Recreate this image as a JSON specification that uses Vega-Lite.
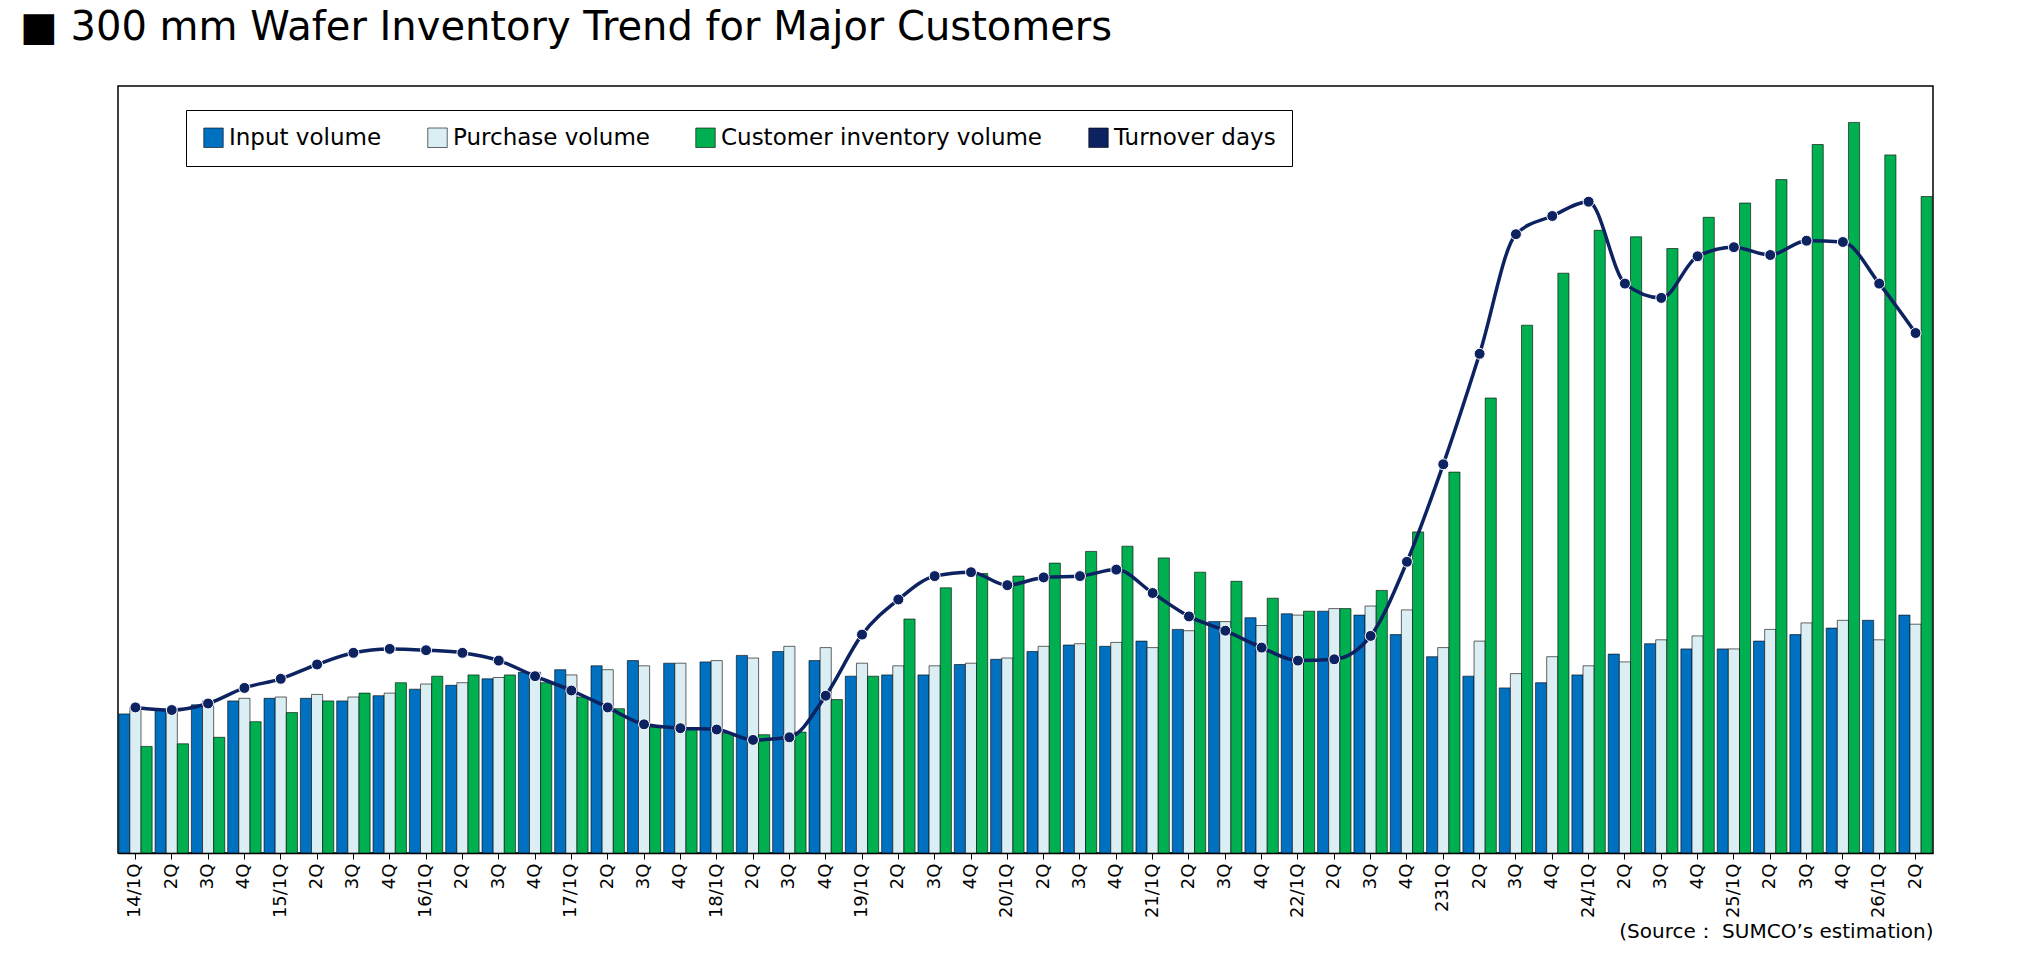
{
  "$schema": "https://vega.github.io/schema/vega-lite/v6.json",
  "width": 1815,
  "height": 767,
  "padding": {"left": 20, "top": 8, "right": 20, "bottom": 5},
  "background": "white",
  "title": {"text": "■ 300 mm Wafer Inventory Trend for Major Customers", "anchor": "start", "dx": -98, "fontSize": 40, "font": "DejaVu Sans", "fontWeight": "normal", "color": "#000000", "offset": 38},
  "config": {"view": {"stroke": "#000000", "strokeWidth": 1.5}, "font": "DejaVu Sans"},
  "data": {"values": [
    {"q":"14/1Q","Input volume":107,"Purchase volume":112,"Customer inventory volume":82,"Turnover days":112},
    {"q":"14/2Q","Input volume":110,"Purchase volume":109,"Customer inventory volume":84,"Turnover days":110},
    {"q":"14/3Q","Input volume":114,"Purchase volume":117,"Customer inventory volume":89,"Turnover days":115},
    {"q":"14/4Q","Input volume":117,"Purchase volume":119,"Customer inventory volume":101,"Turnover days":127},
    {"q":"15/1Q","Input volume":119,"Purchase volume":120,"Customer inventory volume":108,"Turnover days":134},
    {"q":"15/2Q","Input volume":119,"Purchase volume":122,"Customer inventory volume":117,"Turnover days":145},
    {"q":"15/3Q","Input volume":117,"Purchase volume":120,"Customer inventory volume":123,"Turnover days":154},
    {"q":"15/4Q","Input volume":121,"Purchase volume":123,"Customer inventory volume":131,"Turnover days":157},
    {"q":"16/1Q","Input volume":126,"Purchase volume":130,"Customer inventory volume":136,"Turnover days":156},
    {"q":"16/2Q","Input volume":129,"Purchase volume":131,"Customer inventory volume":137,"Turnover days":154},
    {"q":"16/3Q","Input volume":134,"Purchase volume":135,"Customer inventory volume":137,"Turnover days":148},
    {"q":"16/4Q","Input volume":139,"Purchase volume":139,"Customer inventory volume":131,"Turnover days":136},
    {"q":"17/1Q","Input volume":141,"Purchase volume":137,"Customer inventory volume":120,"Turnover days":125},
    {"q":"17/2Q","Input volume":144,"Purchase volume":141,"Customer inventory volume":111,"Turnover days":112},
    {"q":"17/3Q","Input volume":148,"Purchase volume":144,"Customer inventory volume":97,"Turnover days":99},
    {"q":"17/4Q","Input volume":146,"Purchase volume":146,"Customer inventory volume":95,"Turnover days":96},
    {"q":"18/1Q","Input volume":147,"Purchase volume":148,"Customer inventory volume":92,"Turnover days":95},
    {"q":"18/2Q","Input volume":152,"Purchase volume":150,"Customer inventory volume":91,"Turnover days":87},
    {"q":"18/3Q","Input volume":155,"Purchase volume":159,"Customer inventory volume":93,"Turnover days":89},
    {"q":"18/4Q","Input volume":148,"Purchase volume":158,"Customer inventory volume":118,"Turnover days":121},
    {"q":"19/1Q","Input volume":136,"Purchase volume":146,"Customer inventory volume":136,"Turnover days":168},
    {"q":"19/2Q","Input volume":137,"Purchase volume":144,"Customer inventory volume":180,"Turnover days":195},
    {"q":"19/3Q","Input volume":137,"Purchase volume":144,"Customer inventory volume":204,"Turnover days":213},
    {"q":"19/4Q","Input volume":145,"Purchase volume":146,"Customer inventory volume":215,"Turnover days":216},
    {"q":"20/1Q","Input volume":149,"Purchase volume":150,"Customer inventory volume":213,"Turnover days":206},
    {"q":"20/2Q","Input volume":155,"Purchase volume":159,"Customer inventory volume":223,"Turnover days":212},
    {"q":"20/3Q","Input volume":160,"Purchase volume":161,"Customer inventory volume":232,"Turnover days":213},
    {"q":"20/4Q","Input volume":159,"Purchase volume":162,"Customer inventory volume":236,"Turnover days":218},
    {"q":"21/1Q","Input volume":163,"Purchase volume":158,"Customer inventory volume":227,"Turnover days":200},
    {"q":"21/2Q","Input volume":172,"Purchase volume":171,"Customer inventory volume":216,"Turnover days":182},
    {"q":"21/3Q","Input volume":178,"Purchase volume":178,"Customer inventory volume":209,"Turnover days":171},
    {"q":"21/4Q","Input volume":181,"Purchase volume":175,"Customer inventory volume":196,"Turnover days":158},
    {"q":"22/1Q","Input volume":184,"Purchase volume":183,"Customer inventory volume":186,"Turnover days":148},
    {"q":"22/2Q","Input volume":186,"Purchase volume":188,"Customer inventory volume":188,"Turnover days":149},
    {"q":"22/3Q","Input volume":183,"Purchase volume":190,"Customer inventory volume":202,"Turnover days":167},
    {"q":"22/4Q","Input volume":168,"Purchase volume":187,"Customer inventory volume":247,"Turnover days":224},
    {"q":"23/1Q","Input volume":151,"Purchase volume":158,"Customer inventory volume":293,"Turnover days":299},
    {"q":"23/2Q","Input volume":136,"Purchase volume":163,"Customer inventory volume":350,"Turnover days":384},
    {"q":"23/3Q","Input volume":127,"Purchase volume":138,"Customer inventory volume":406,"Turnover days":476},
    {"q":"23/4Q","Input volume":131,"Purchase volume":151,"Customer inventory volume":446,"Turnover days":490},
    {"q":"24/1Q","Input volume":137,"Purchase volume":144,"Customer inventory volume":479,"Turnover days":501},
    {"q":"24/2Q","Input volume":153,"Purchase volume":147,"Customer inventory volume":474,"Turnover days":438},
    {"q":"24/3Q","Input volume":161,"Purchase volume":164,"Customer inventory volume":465,"Turnover days":427},
    {"q":"24/4Q","Input volume":157,"Purchase volume":167,"Customer inventory volume":489,"Turnover days":459},
    {"q":"25/1Q","Input volume":157,"Purchase volume":157,"Customer inventory volume":500,"Turnover days":466},
    {"q":"25/2Q","Input volume":163,"Purchase volume":172,"Customer inventory volume":518,"Turnover days":460},
    {"q":"25/3Q","Input volume":168,"Purchase volume":177,"Customer inventory volume":545,"Turnover days":471},
    {"q":"25/4Q","Input volume":173,"Purchase volume":179,"Customer inventory volume":562,"Turnover days":470},
    {"q":"26/1Q","Input volume":179,"Purchase volume":164,"Customer inventory volume":537,"Turnover days":438},
    {"q":"26/2Q","Input volume":183,"Purchase volume":176,"Customer inventory volume":505,"Turnover days":400}
  ]},
  "encoding": {
    "x": {
      "field": "q", "type": "ordinal", "sort": null,
      "scale": {"paddingInner": 0.08, "paddingOuter": 0.02},
      "axis": {
        "labelAngle": -90, "labelFontSize": 18, "labelColor": "#000000", "domainColor": "#000000", "domainWidth": 1.5,
        "tickColor": "#000000", "tickSize": 6, "labelPadding": 4,
        "labelExpr": "substring(datum.label,3)=='1Q' ? (datum.label=='23/1Q' ? '231Q' : datum.label) : substring(datum.label,3)",
        "title": "(Source： SUMCO’s estimation)", "titleAnchor": "end", "titleFontSize": 20, "titleFontWeight": "normal", "titlePadding": 4, "titleColor": "#000000"
      }
    }
  },
  "layer": [
    {
      "transform": [{"fold": ["Input volume", "Purchase volume", "Customer inventory volume"], "as": ["series", "value"]}],
      "mark": {"type": "bar", "stroke": "#000000", "strokeWidth": 0.6},
      "encoding": {
        "xOffset": {"field": "series", "sort": ["Input volume", "Purchase volume", "Customer inventory volume"]},
        "y": {"field": "value", "type": "quantitative", "scale": {"domain": [0, 590]}, "axis": null},
        "color": {
          "field": "series", "type": "nominal",
          "scale": {"domain": ["Input volume", "Purchase volume", "Customer inventory volume", "Turnover days"], "range": ["#0070c0", "#daeef3", "#00b050", "#0d2260"]},
          "legend": {"orient": "none", "legendX": 68, "legendY": 24, "direction": "horizontal", "title": null,
            "labelFontSize": 23, "symbolType": "square", "symbolSize": 380, "symbolStrokeColor": "#000000", "symbolStrokeWidth": 0.6,
            "strokeColor": "#000000", "padding": 16, "columnPadding": 44, "labelLimit": 500, "labelColor": "#000000"}
        }
      }
    },
    {
      "mark": {"type": "line", "color": "#0d2260", "strokeWidth": 3.5, "interpolate": "monotone", "point": {"filled": true, "size": 120, "color": "#0d2260", "stroke": "white", "strokeWidth": 1}},
      "encoding": {
        "y": {"field": "Turnover days", "type": "quantitative", "scale": {"domain": [0, 590]}, "axis": null}
      }
    }
  ]
}
